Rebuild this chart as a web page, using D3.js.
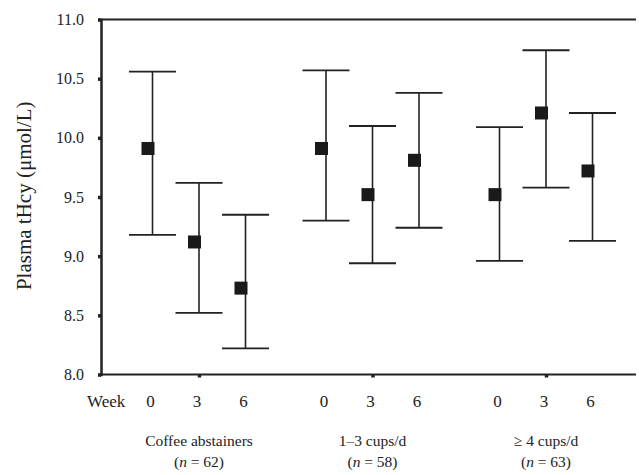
<!DOCTYPE html>
<meta charset="utf-8">
<style>
  body { margin: 0; background: #fff; }
  text { font-family: "Liberation Serif", serif; fill: #222; }
</style>
<body>
<script src="https://d3js.org/d3.v7.min.js"></script>
<script>
    // data
    var groups = ["Coffee abstainers", "1–3 cups/d", "≥ 4 cups/d"];
    var groupN = [62, 58, 63];
    var weeks = [0, 3, 6];
    var means = [[9.91, 9.12, 8.73], [9.91, 9.52, 9.81], [9.52, 10.21, 9.72]];
    var upper = [[10.56, 9.62, 9.35], [10.57, 10.10, 10.38], [10.09, 10.74, 10.21]];
    var lower = [[9.18, 8.52, 8.22], [9.30, 8.94, 9.24], [8.96, 9.58, 9.13]];
    var yTicks = [8.0, 8.5, 9.0, 9.5, 10.0, 10.5, 11.0];

    var svg = d3.select("body").append("svg")
        .attr("width", 639)
        .attr("height", 475);

    var margin = {top: 19.5, right: 3, bottom: 100.5, left: 101},
        width = 639 - margin.left - margin.right,
        height = 475 - margin.top - margin.bottom,
        g = svg.append("g").attr("transform", "translate(" + margin.left + "," + margin.top + ")");

    var y = d3.scaleLinear().domain([8, 11]).range([height, 0]);
    var gx = d3.scalePoint().domain(groups).range([98, 445]);
    var wx = d3.scaleLinear().domain([0, 6]).range([-46.5, 46.5]);

    var rows = [];
    groups.forEach(function(gr, i) {
        weeks.forEach(function(w, j) {
            rows.push({group: gr, week: w, mean: means[i][j], hi: upper[i][j], lo: lower[i][j]});
        });
    });
    function xPos(d) { return gx(d.group) + wx(d.week); }

    // frame: top and bottom lines
    g.append("line").attr("x1", 0).attr("x2", width).attr("y1", 0).attr("y2", 0)
        .attr("stroke", "#222").attr("stroke-width", 2);
    g.append("line").attr("x1", 0).attr("x2", width).attr("y1", height).attr("y2", height)
        .attr("stroke", "#222").attr("stroke-width", 2);

    // y axis
    var yAxis = g.append("g")
        .call(d3.axisLeft(y).tickValues(yTicks).tickFormat(d3.format(".1f")).tickSize(3).tickPadding(14));
    yAxis.select(".domain").attr("stroke", "#222").attr("stroke-width", 2.5);
    yAxis.selectAll(".tick line").attr("stroke", "#222").attr("stroke-width", 3.5);
    yAxis.selectAll(".tick text").attr("font-size", 16).attr("fill", "#222");

    // x axis ticks at group centres
    var xAxis = g.append("g")
        .attr("transform", "translate(0," + height + ")")
        .call(d3.axisBottom(gx).tickSize(3).tickFormat(""));
    xAxis.select(".domain").remove();
    xAxis.selectAll(".tick line").attr("stroke", "#222").attr("stroke-width", 3.5);

    // error bars
    var bars = g.selectAll(".bar").data(rows).enter().append("g").attr("class", "bar");
    bars.append("line")
        .attr("x1", xPos).attr("x2", xPos)
        .attr("y1", function(d) { return y(d.hi); })
        .attr("y2", function(d) { return y(d.lo); })
        .attr("stroke", "#222").attr("stroke-width", 1.6);
    bars.append("line")
        .attr("x1", function(d) { return xPos(d) - 23.5; })
        .attr("x2", function(d) { return xPos(d) + 23.5; })
        .attr("y1", function(d) { return y(d.hi); })
        .attr("y2", function(d) { return y(d.hi); })
        .attr("stroke", "#222").attr("stroke-width", 1.8);
    bars.append("line")
        .attr("x1", function(d) { return xPos(d) - 23.5; })
        .attr("x2", function(d) { return xPos(d) + 23.5; })
        .attr("y1", function(d) { return y(d.lo); })
        .attr("y2", function(d) { return y(d.lo); })
        .attr("stroke", "#222").attr("stroke-width", 1.8);
    // mean markers sit a little left of the bar
    bars.append("rect")
        .attr("x", function(d) { return xPos(d) - 4.5 - 6.5; })
        .attr("y", function(d) { return y(d.mean) - 6.5; })
        .attr("width", 13).attr("height", 13)
        .attr("fill", "#1a1a1a");

    // week labels
    g.append("text").attr("x", -14).attr("y", height + 32.5)
        .attr("font-size", 17).text("Week");
    g.selectAll(".wk").data(rows).enter().append("text")
        .attr("class", "wk")
        .attr("x", function(d) { return xPos(d) - 2; })
        .attr("y", height + 32.5)
        .attr("text-anchor", "middle")
        .attr("font-size", 17)
        .text(function(d) { return d.week; });

    // group labels
    var gl = g.selectAll(".grp").data(groups).enter().append("text")
        .attr("class", "grp")
        .attr("text-anchor", "middle")
        .attr("font-size", 15.5);
    gl.append("tspan")
        .attr("x", function(d) { return gx(d); })
        .attr("y", height + 71)
        .text(function(d) { return d; });
    var nl = gl.append("tspan")
        .attr("x", function(d) { return gx(d); })
        .attr("y", height + 92.5);
    nl.append("tspan").text("(");
    nl.append("tspan").attr("font-style", "italic").text("n");
    nl.append("tspan").text(function(d, i) { return " = " + groupN[i] + ")"; });

    // y title
    svg.append("text")
        .attr("transform", "translate(31," + (margin.top + y(9.51)) + ") rotate(-90)")
        .attr("text-anchor", "middle")
        .attr("font-size", 21)
        .text("Plasma tHcy (μmol/L)");
</script>
</body>
